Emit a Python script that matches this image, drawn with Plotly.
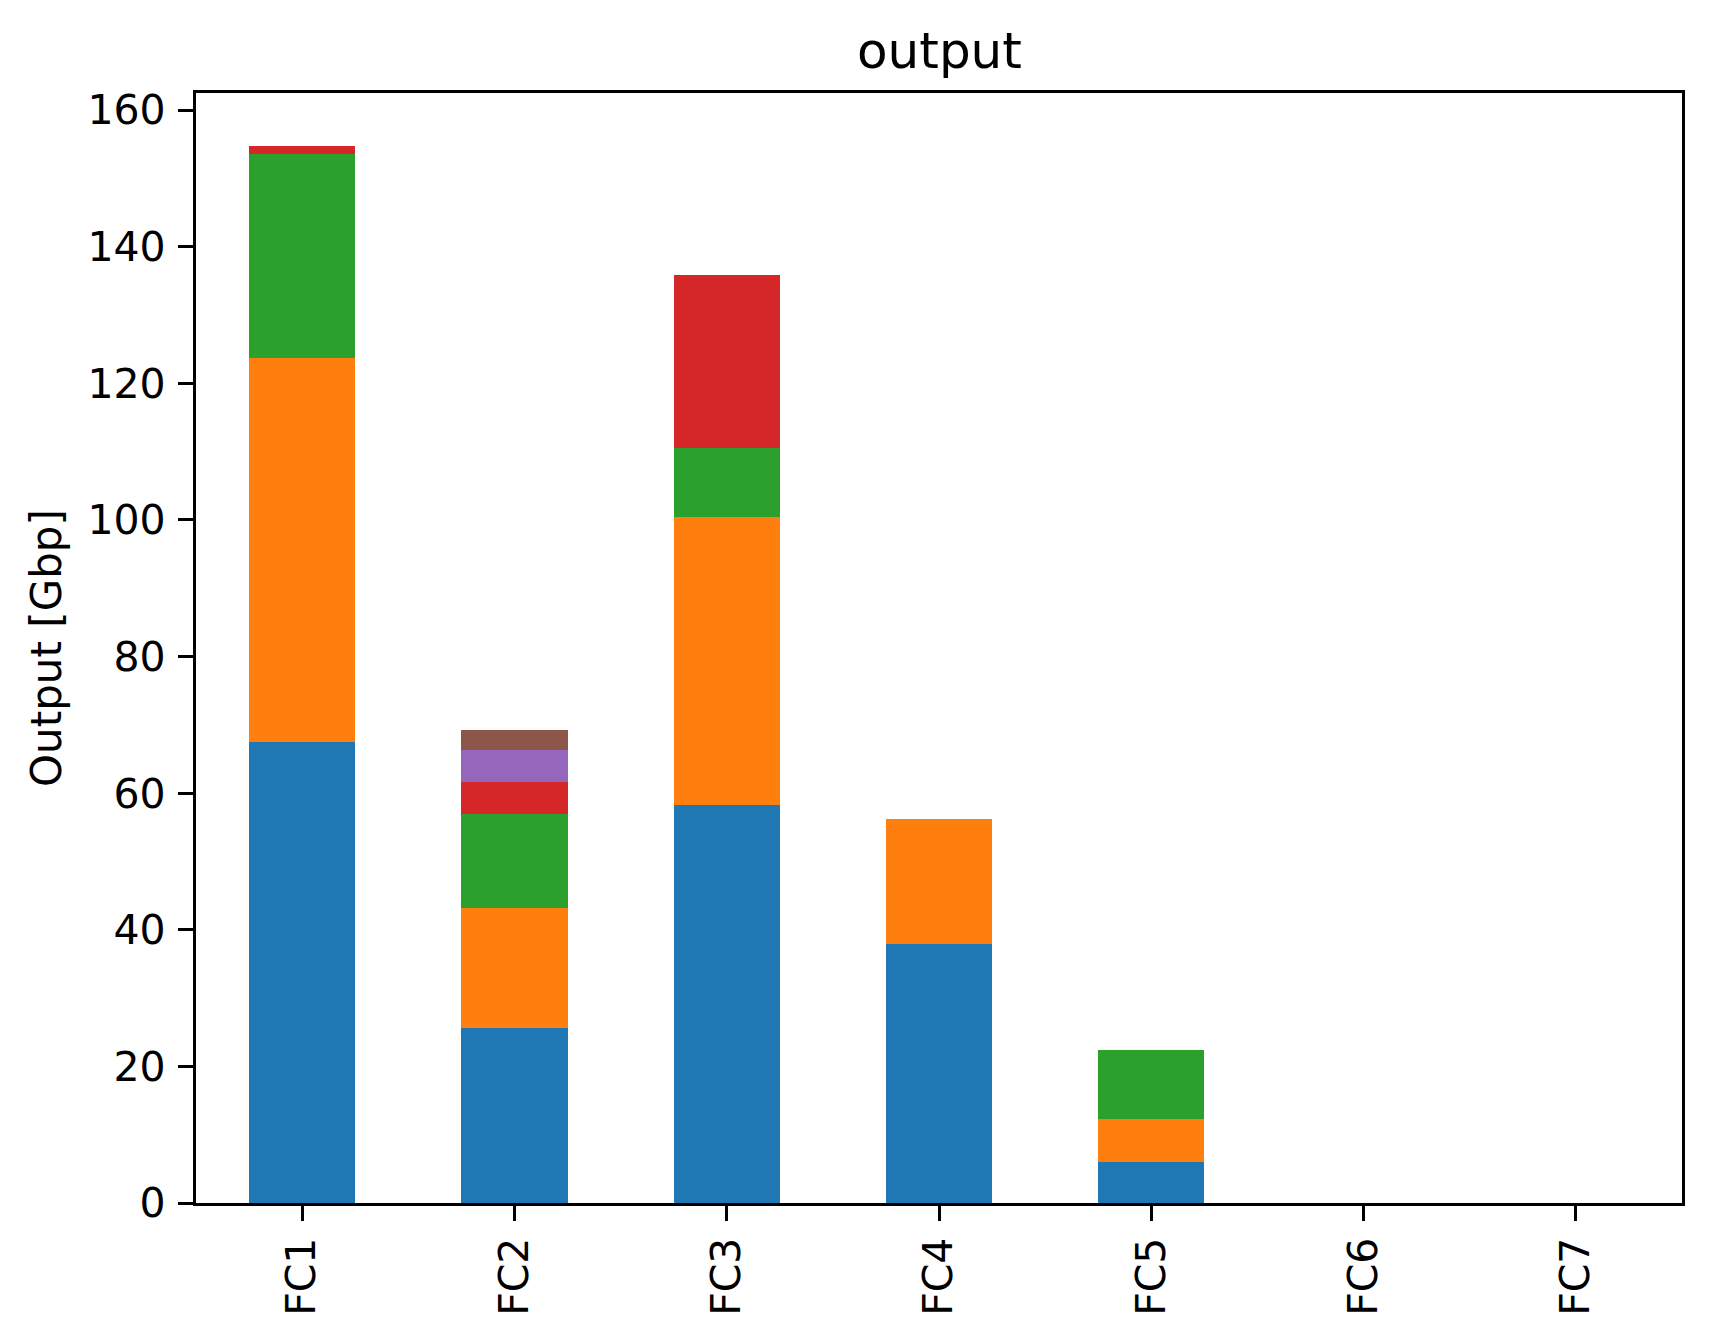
import plotly.graph_objects as go

categories = ["FC1", "FC2", "FC3", "FC4", "FC5", "FC6", "FC7"]
series_names = ["s1", "s2", "s3", "s4", "s5", "s6"]
s1 = [67.55, 25.55, 58.3, 37.85, 5.94, 0, 0]
s2 = [56.1, 17.7, 42.2, 18.44, 6.29, 0, 0]
s3 = [29.85, 13.65, 10.1, 0, 10.1, 0, 0]
s4 = [1.3, 4.7, 25.2, 0, 0, 0, 0]
s5 = [0, 4.65, 0, 0, 0, 0, 0]
s6 = [0, 2.93, 0, 0, 0, 0, 0]
colors = ["#1f77b4", "#ff7f0e", "#2ca02c", "#d62728", "#9467bd", "#8c564b"]

FONT = "DejaVu Sans"
# page body has an 8px default margin; compensate
W, H = 1705, 1332
L, R, T, B = 188, 31, 85, 137
xpos = list(range(len(categories)))

fig = go.Figure()
for name, vals, col in zip(series_names, [s1, s2, s3, s4, s5, s6], colors):
    fig.add_trace(go.Bar(x=xpos, y=vals, name=name, width=0.5,
                         marker=dict(color=col, line=dict(width=0)),
                         showlegend=False))

fig.update_layout(
    width=W, height=H, barmode="stack",
    margin=dict(l=L, r=R, t=T, b=B, pad=0),
    paper_bgcolor="white", plot_bgcolor="white",
    font=dict(family=FONT, size=41, color="black"),
    xaxis=dict(range=[-0.5, 6.5], tickvals=xpos, ticktext=categories,
               tickangle=-90, ticks="outside", ticklen=15, tickwidth=3.3,
               tickcolor="black", showline=True, linecolor="black",
               linewidth=3.3, mirror=True, showgrid=False, zeroline=False,
               tickfont=dict(family=FONT, size=41, color="black")),
    yaxis=dict(range=[0, 162.5], tickvals=[0, 20, 40, 60, 80, 100, 120, 140, 160],
               ticks="outside", ticklen=15, tickwidth=3.3, tickcolor="black",
               showline=True, linecolor="black", linewidth=3.3, mirror=True,
               showgrid=False, zeroline=False, ticklabelstandoff=4,
               tickfont=dict(family=FONT, size=41, color="black")),
    annotations=[
        dict(text="output", xref="paper", yref="paper", x=0.5, y=1,
             xanchor="center", yanchor="bottom", yshift=11, showarrow=False,
             font=dict(family=FONT, size=50, color="black")),
        dict(text="Output [Gbp]", xref="paper", yref="paper",
             x=(38 - L) / (W - L - R), y=0.5, xanchor="center", yanchor="middle",
             textangle=-90, showarrow=False,
             font=dict(family=FONT, size=42, color="black")),
    ],
)

fig.write_html("out.html")
